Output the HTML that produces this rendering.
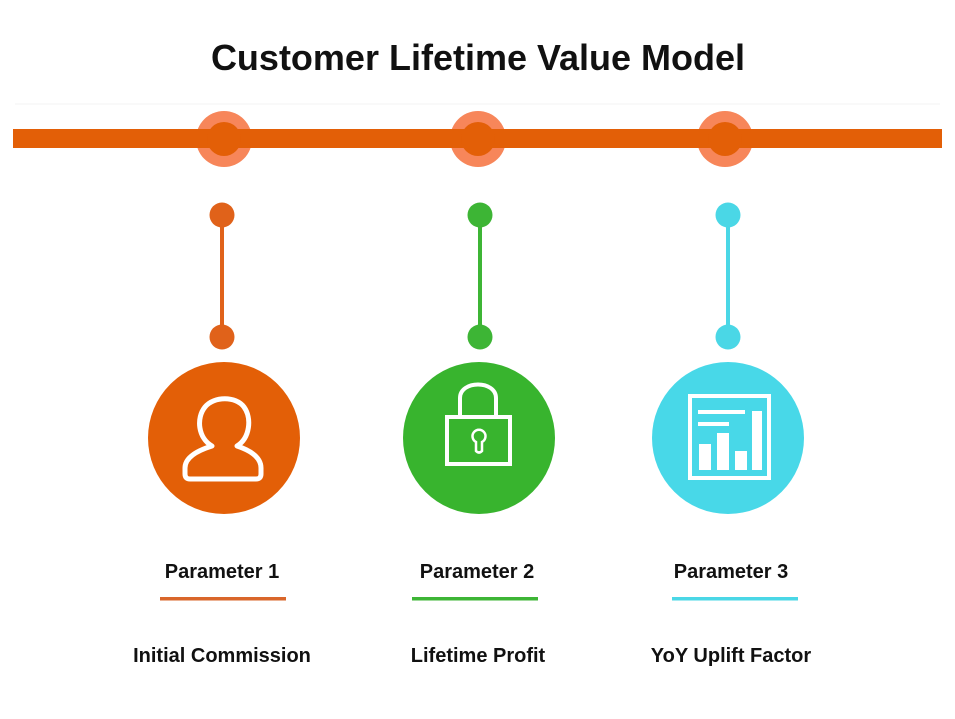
<!DOCTYPE html>
<html><head><meta charset="utf-8"><style>
html,body{margin:0;padding:0;background:#fff;}
svg{display:block;font-family:"Liberation Sans",Arial,sans-serif;}
</style></head><body>
<svg width="955" height="719" viewBox="0 0 955 719">
<rect width="955" height="719" fill="#fff"/>
<line x1="15" y1="104" x2="940" y2="104" stroke="#f3f3f3" stroke-width="1"/>
<text x="478" y="70" text-anchor="middle" font-size="36" font-weight="bold" fill="#111">Customer Lifetime Value Model</text>
<g fill="#f7865a"><circle cx="224" cy="139" r="28"/><circle cx="478" cy="139" r="28"/><circle cx="725" cy="139" r="28"/></g>
<rect x="13" y="129" width="929" height="19" fill="#e35f07"/>
<g fill="#e35f07"><circle cx="224" cy="139" r="17"/><circle cx="478" cy="139" r="17"/><circle cx="725" cy="139" r="17"/></g>
<!-- stems -->
<g stroke-width="4">
<line x1="222" y1="215" x2="222" y2="337" stroke="#e0621a"/>
<line x1="480" y1="215" x2="480" y2="337" stroke="#3db535"/>
<line x1="728" y1="215" x2="728" y2="337" stroke="#4ad7e6"/>
</g>
<g fill="#e0621a"><circle cx="222" cy="215" r="12.5"/><circle cx="222" cy="337" r="12.5"/></g>
<g fill="#3db535"><circle cx="480" cy="215" r="12.5"/><circle cx="480" cy="337" r="12.5"/></g>
<g fill="#4ad7e6"><circle cx="728" cy="215" r="12.5"/><circle cx="728" cy="337" r="12.5"/></g>
<!-- big circles -->
<circle cx="224" cy="438" r="76" fill="#e35f07"/>
<circle cx="479" cy="438" r="76" fill="#38b42e"/>
<circle cx="728" cy="438" r="76" fill="#48d8e8"/>
<!-- person -->
<path d="M212,446 C198,438 196,418 205,407 C214,396 236,396 244,407 C252,418 250,438 237,446 C252,451 261,458 261,468 L261,474 Q261,479 256,479 L190,479 Q185,479 185,474 L185,468 C185,458 196,451 212,446 Z" fill="none" stroke="#fff" stroke-width="5" stroke-linejoin="round"/>
<!-- lock -->
<path d="M460,417 L460,398 C460,380 496,380 496,398 L496,417" fill="none" stroke="#fff" stroke-width="4"/>
<rect x="447" y="417" width="63" height="47" fill="none" stroke="#fff" stroke-width="4"/>
<path d="M476,442 L476,451 Q479,454 482,451 L482,442 A6.5,6.5 0 1 0 476,442 Z" fill="none" stroke="#fff" stroke-width="2.5"/>
<!-- chart -->
<rect x="690" y="396" width="79" height="82" fill="none" stroke="#fff" stroke-width="4"/>
<rect x="698" y="410" width="47" height="4" fill="#fff"/>
<rect x="698" y="422" width="31" height="4" fill="#fff"/>
<rect x="699" y="444" width="12" height="26" fill="#fff"/>
<rect x="717" y="433" width="12" height="37" fill="#fff"/>
<rect x="735" y="451" width="12" height="19" fill="#fff"/>
<rect x="752" y="411" width="10" height="59" fill="#fff"/>
<!-- labels -->
<g font-size="20" font-weight="bold" fill="#111" text-anchor="middle">
<text x="222" y="578">Parameter 1</text>
<text x="477" y="578">Parameter 2</text>
<text x="731" y="578">Parameter 3</text>
<text x="222" y="662">Initial Commission</text>
<text x="478" y="662">Lifetime Profit</text>
<text x="731" y="662">YoY Uplift Factor</text>
</g>
<rect x="160" y="597" width="126" height="3.5" fill="#d9662a"/>
<rect x="412" y="597" width="126" height="3.5" fill="#3db535"/>
<rect x="672" y="597" width="126" height="3.5" fill="#4ad7e6"/>
</svg>
</body></html>
